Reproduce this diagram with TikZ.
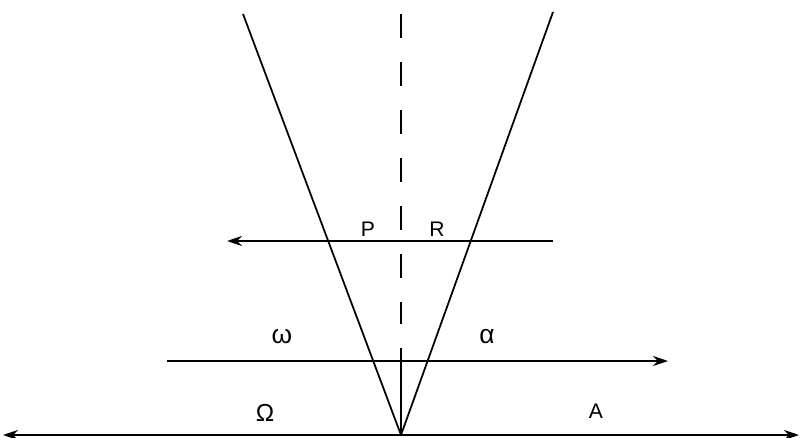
\documentclass[tikz,border=0pt]{standalone}
\usepackage{fontspec}
\setmainfont{Liberation Sans}
\usetikzlibrary{arrows.meta}

\begin{document}
\begin{tikzpicture}[>={Stealth[length=3mm,width=2mm]},font=\fontsize{12}{14}\selectfont,line width=1pt]
\useasboundingbox (0,0) rectangle (16.02,8.74);
% cone and axis
\coordinate (O) at (8.02,0.04);
\coordinate (Ltop) at (4.86,8.46);
\coordinate (Rtop) at (11.06,8.50);
\coordinate (Atop) at (8.02,8.46);
\coordinate (Adash) at (8.02,2.26);
\coordinate (Asol) at (8.02,1.78);
\draw (O) -- (Ltop);
\draw (O) -- (Rtop);
\draw[dash pattern=on 0.48cm off 0.48cm] (Atop) -- (Adash);
\draw (Asol) -- (O);
% horizontal rays
\coordinate (u1) at (11.06,3.92);
\coordinate (u2) at (4.54,3.92);
\coordinate (m1) at (3.34,1.52);
\coordinate (m2) at (13.36,1.52);
\coordinate (b1) at (0.06,0.04);
\coordinate (b2) at (15.98,0.04);
\draw[->] (u1) -- (u2);
\draw[->] (m1) -- (m2);
\draw[<->] (b1) -- (b2);
% labels
\node (P) at (7.36,4.16) {P};
\node (R) at (8.74,4.16) {R};
\node[font=\fontsize{15}{17}\selectfont] (w) at (5.64,2.00) {ω};
\node[font=\fontsize{15}{17}\selectfont] (a) at (9.74,2.00) {α};
\node[font=\fontsize{14}{16}\selectfont] (W) at (5.30,0.48) {Ω};
\node (A) at (11.92,0.52) {A};
\end{tikzpicture}
\end{document}
